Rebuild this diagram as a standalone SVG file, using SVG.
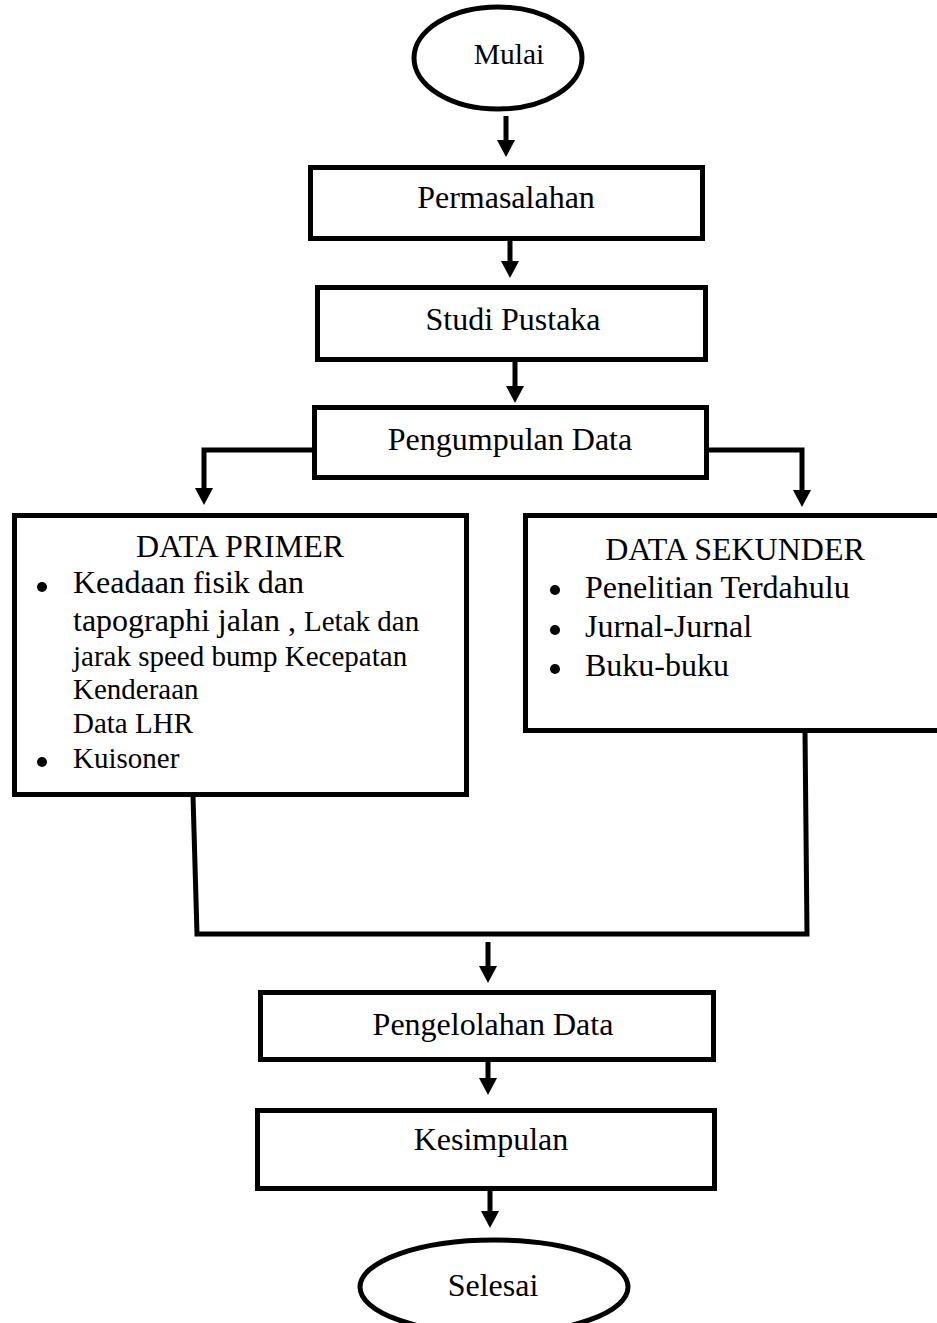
<svg xmlns="http://www.w3.org/2000/svg" width="937" height="1323" viewBox="0 0 937 1323">
<defs>
<style>
.box{fill:#fff;stroke:#000;stroke-width:5}
.term{fill:#fff;stroke:#000;stroke-width:5}
.t{font-family:"Liberation Serif","Times New Roman",serif;font-size:32px;fill:#000}
.s{font-size:29px}
.c{text-anchor:middle}
.ln{fill:none;stroke:#000;stroke-width:5}
.arr{marker-end:url(#ah)}
.dot{fill:#000}
</style>
<marker id="ah" markerUnits="userSpaceOnUse" markerWidth="18" markerHeight="18" viewBox="0 0 18 18" refX="4" refY="9" orient="auto">
<path d="M0,0 L17,9 L0,18 Z" fill="#000"/>
</marker>
</defs>
<rect width="937" height="1323" fill="#fff"/>

<g id="connectors">
<line class="ln arr" x1="506" y1="116" x2="506" y2="144"/>
<line class="ln arr" x1="510" y1="241" x2="510" y2="265"/>
<line class="ln arr" x1="515" y1="362" x2="515" y2="390"/>
<polyline class="ln arr" points="313,450 204,450 204,492"/>
<polyline class="ln arr" points="708,450 802,450 802,494"/>
<polyline class="ln" points="193,796 197,934 807,934 805,731"/>
<line class="ln arr" x1="488" y1="942" x2="488" y2="970"/>
<line class="ln arr" x1="488" y1="1062" x2="488" y2="1082"/>
<line class="ln arr" x1="490" y1="1190" x2="490" y2="1215"/>
</g>

<g id="mulai">
<ellipse class="term" cx="498" cy="58" rx="84" ry="51"/>
<text class="t c" x="509" y="64" style="font-size:29.5px">Mulai</text>
</g>

<g id="permasalahan">
<rect class="box" x="310.5" y="167.5" width="392" height="71"/>
<text class="t c" x="506" y="208">Permasalahan</text>
</g>

<g id="studi-pustaka">
<rect class="box" x="317.5" y="287.5" width="388" height="72"/>
<text class="t c" x="513" y="330">Studi Pustaka</text>
</g>

<g id="pengumpulan-data">
<rect class="box" x="314.5" y="407.5" width="392" height="70"/>
<text class="t c" x="510" y="450">Pengumpulan Data</text>
</g>

<g id="data-primer">
<rect class="box" x="14.5" y="515.5" width="452" height="279"/>
<text class="t c" x="240" y="557">DATA PRIMER</text>
<circle class="dot" cx="42" cy="587" r="5"/>
<text class="t" x="73" y="593">Keadaan fisik dan</text>
<text class="t" x="73" y="631">tapographi jalan , <tspan class="s">Letak dan</tspan></text>
<text class="t s" x="73" y="666">jarak speed bump Kecepatan</text>
<text class="t s" x="73" y="699">Kenderaan</text>
<text class="t s" x="73" y="733">Data LHR</text>
<circle class="dot" cx="42" cy="762" r="5"/>
<text class="t s" x="73" y="768">Kuisoner</text>
</g>

<g id="data-sekunder">
<rect class="box" x="525.5" y="515.5" width="440" height="215"/>
<text class="t c" x="735" y="560">DATA SEKUNDER</text>
<circle class="dot" cx="555" cy="590" r="5"/>
<text class="t" x="585" y="598">Penelitian Terdahulu</text>
<circle class="dot" cx="555" cy="630" r="5"/>
<text class="t" x="585" y="637">Jurnal-Jurnal</text>
<circle class="dot" cx="555" cy="669" r="5"/>
<text class="t" x="585" y="676">Buku-buku</text>
</g>

<g id="pengelolahan-data">
<rect class="box" x="260.5" y="992.5" width="453" height="67"/>
<text class="t c" x="493" y="1035">Pengelolahan Data</text>
</g>

<g id="kesimpulan">
<rect class="box" x="257.5" y="1110.5" width="457" height="78"/>
<text class="t c" x="491" y="1150">Kesimpulan</text>
</g>

<g id="selesai">
<ellipse class="term" cx="494" cy="1287" rx="134" ry="47"/>
<text class="t c" x="493" y="1296">Selesai</text>
</g>
</svg>
